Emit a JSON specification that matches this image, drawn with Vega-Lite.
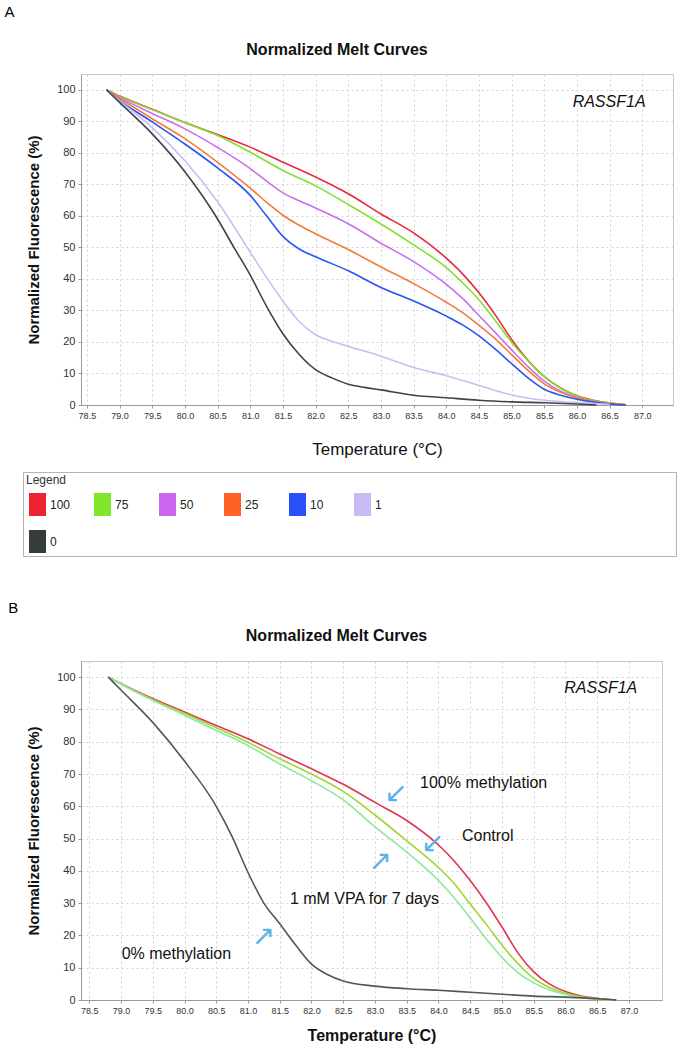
{
  "$schema": "https://vega.github.io/schema/vega-lite/v6.json",
  "background": "white",
  "padding": {"left": 4, "top": 4, "right": 0, "bottom": 0},
  "config": {
    "font": "Liberation Sans",
    "view": {"stroke": "#c8c8c8", "strokeWidth": 1},
    "axis": {"grid": true, "gridDash": [2, 3], "gridColor": "#d2d2d2", "domainColor": "#9a9a9a", "tickColor": "#9a9a9a", "labelColor": "#333333", "titleColor": "#111111", "labelFont": "Liberation Sans", "titleFont": "Liberation Sans", "labelOverlap": false}
  },
  "resolve": {"scale": {"color": "independent", "fill": "independent"}, "legend": {"color": "independent", "fill": "independent"}},
  "datasets": {
    "meltA": [
      {"series":"100","temp":78.8,"fluor":100},{"series":"100","temp":79.0,"fluor":98.0},{"series":"100","temp":79.5,"fluor":93.8},{"series":"100","temp":80.0,"fluor":89.6},{"series":"100","temp":80.5,"fluor":85.8},{"series":"100","temp":81.0,"fluor":81.8},{"series":"100","temp":81.5,"fluor":77.0},{"series":"100","temp":82.0,"fluor":72.3},{"series":"100","temp":82.5,"fluor":67.0},{"series":"100","temp":83.0,"fluor":60.6},{"series":"100","temp":83.5,"fluor":54.6},{"series":"100","temp":84.0,"fluor":46.6},{"series":"100","temp":84.25,"fluor":41.6},{"series":"100","temp":84.5,"fluor":35.6},{"series":"100","temp":84.75,"fluor":28.6},{"series":"100","temp":85.0,"fluor":20.8},{"series":"100","temp":85.25,"fluor":14.2},{"series":"100","temp":85.5,"fluor":9.0},{"series":"100","temp":85.75,"fluor":5.4},{"series":"100","temp":86.0,"fluor":2.9},{"series":"100","temp":86.25,"fluor":1.5},{"series":"100","temp":86.5,"fluor":0.6},{"series":"100","temp":86.75,"fluor":0.1},
      {"series":"75","temp":78.8,"fluor":100},{"series":"75","temp":79.0,"fluor":97.9},{"series":"75","temp":79.5,"fluor":93.7},{"series":"75","temp":80.0,"fluor":89.5},{"series":"75","temp":80.5,"fluor":85.5},{"series":"75","temp":81.0,"fluor":80.2},{"series":"75","temp":81.5,"fluor":74.4},{"series":"75","temp":82.0,"fluor":69.5},{"series":"75","temp":82.5,"fluor":63.6},{"series":"75","temp":83.0,"fluor":57.4},{"series":"75","temp":83.5,"fluor":50.8},{"series":"75","temp":84.0,"fluor":43.6},{"series":"75","temp":84.25,"fluor":38.8},{"series":"75","temp":84.5,"fluor":33.4},{"series":"75","temp":84.75,"fluor":26.8},{"series":"75","temp":85.0,"fluor":19.9},{"series":"75","temp":85.25,"fluor":14.0},{"series":"75","temp":85.5,"fluor":8.9},{"series":"75","temp":85.75,"fluor":5.3},{"series":"75","temp":86.0,"fluor":2.8},{"series":"75","temp":86.25,"fluor":1.4},{"series":"75","temp":86.5,"fluor":0.6},{"series":"75","temp":86.75,"fluor":0.1},
      {"series":"50","temp":78.8,"fluor":100},{"series":"50","temp":79.0,"fluor":97.6},{"series":"50","temp":79.5,"fluor":92.5},{"series":"50","temp":80.0,"fluor":87.6},{"series":"50","temp":80.5,"fluor":81.7},{"series":"50","temp":81.0,"fluor":75.0},{"series":"50","temp":81.25,"fluor":71.0},{"series":"50","temp":81.5,"fluor":67.3},{"series":"50","temp":81.75,"fluor":64.8},{"series":"50","temp":82.0,"fluor":62.5},{"series":"50","temp":82.5,"fluor":57.5},{"series":"50","temp":83.0,"fluor":51.3},{"series":"50","temp":83.5,"fluor":45.5},{"series":"50","temp":84.0,"fluor":38.3},{"series":"50","temp":84.25,"fluor":33.8},{"series":"50","temp":84.5,"fluor":28.4},{"series":"50","temp":84.75,"fluor":23.0},{"series":"50","temp":85.0,"fluor":17.5},{"series":"50","temp":85.25,"fluor":12.2},{"series":"50","temp":85.5,"fluor":7.6},{"series":"50","temp":85.75,"fluor":4.4},{"series":"50","temp":86.0,"fluor":2.4},{"series":"50","temp":86.25,"fluor":1.2},{"series":"50","temp":86.5,"fluor":0.5},{"series":"50","temp":86.75,"fluor":0.1},
      {"series":"25","temp":78.8,"fluor":100},{"series":"25","temp":79.0,"fluor":97.3},{"series":"25","temp":79.5,"fluor":90.8},{"series":"25","temp":80.0,"fluor":84.5},{"series":"25","temp":80.5,"fluor":77.0},{"series":"25","temp":81.0,"fluor":68.8},{"series":"25","temp":81.25,"fluor":64.3},{"series":"25","temp":81.5,"fluor":60.2},{"series":"25","temp":81.75,"fluor":57.0},{"series":"25","temp":82.0,"fluor":54.3},{"series":"25","temp":82.5,"fluor":49.3},{"series":"25","temp":83.0,"fluor":43.8},{"series":"25","temp":83.5,"fluor":38.5},{"series":"25","temp":84.0,"fluor":32.6},{"series":"25","temp":84.25,"fluor":29.3},{"series":"25","temp":84.5,"fluor":25.3},{"series":"25","temp":84.75,"fluor":21.0},{"series":"25","temp":85.0,"fluor":16.0},{"series":"25","temp":85.25,"fluor":11.0},{"series":"25","temp":85.5,"fluor":6.7},{"series":"25","temp":85.75,"fluor":4.0},{"series":"25","temp":86.0,"fluor":2.2},{"series":"25","temp":86.25,"fluor":1.1},{"series":"25","temp":86.5,"fluor":0.5},{"series":"25","temp":86.75,"fluor":0.1},
      {"series":"10","temp":78.8,"fluor":100},{"series":"10","temp":79.0,"fluor":96.6},{"series":"10","temp":79.5,"fluor":89.8},{"series":"10","temp":80.0,"fluor":82.8},{"series":"10","temp":80.5,"fluor":75.2},{"series":"10","temp":81.0,"fluor":66.5},{"series":"10","temp":81.25,"fluor":60.0},{"series":"10","temp":81.5,"fluor":53.5},{"series":"10","temp":81.75,"fluor":49.5},{"series":"10","temp":82.0,"fluor":47.0},{"series":"10","temp":82.5,"fluor":42.6},{"series":"10","temp":83.0,"fluor":37.3},{"series":"10","temp":83.5,"fluor":33.0},{"series":"10","temp":84.0,"fluor":28.2},{"series":"10","temp":84.25,"fluor":25.4},{"series":"10","temp":84.5,"fluor":21.9},{"series":"10","temp":84.75,"fluor":17.7},{"series":"10","temp":85.0,"fluor":13.1},{"series":"10","temp":85.25,"fluor":8.6},{"series":"10","temp":85.5,"fluor":5.0},{"series":"10","temp":85.75,"fluor":3.1},{"series":"10","temp":86.0,"fluor":1.8},{"series":"10","temp":86.25,"fluor":0.9},{"series":"10","temp":86.5,"fluor":0.3},{"series":"10","temp":86.75,"fluor":0.0},
      {"series":"1","temp":78.8,"fluor":100},{"series":"1","temp":79.0,"fluor":96.5},{"series":"1","temp":79.5,"fluor":88.0},{"series":"1","temp":80.0,"fluor":77.5},{"series":"1","temp":80.5,"fluor":64.5},{"series":"1","temp":81.0,"fluor":48.5},{"series":"1","temp":81.25,"fluor":40.5},{"series":"1","temp":81.5,"fluor":33.0},{"series":"1","temp":81.75,"fluor":26.5},{"series":"1","temp":82.0,"fluor":22.3},{"series":"1","temp":82.25,"fluor":20.2},{"series":"1","temp":82.5,"fluor":18.6},{"series":"1","temp":83.0,"fluor":15.5},{"series":"1","temp":83.5,"fluor":11.9},{"series":"1","temp":84.0,"fluor":9.3},{"series":"1","temp":84.5,"fluor":6.2},{"series":"1","temp":85.0,"fluor":3.2},{"series":"1","temp":85.5,"fluor":1.5},{"series":"1","temp":86.0,"fluor":0.8},{"series":"1","temp":86.5,"fluor":0.2},
      {"series":"0","temp":78.8,"fluor":100},{"series":"0","temp":79.0,"fluor":96.0},{"series":"0","temp":79.5,"fluor":86.0},{"series":"0","temp":80.0,"fluor":74.0},{"series":"0","temp":80.5,"fluor":59.0},{"series":"0","temp":80.75,"fluor":50.0},{"series":"0","temp":81.0,"fluor":41.2},{"series":"0","temp":81.25,"fluor":31.3},{"series":"0","temp":81.5,"fluor":22.6},{"series":"0","temp":81.75,"fluor":16.0},{"series":"0","temp":82.0,"fluor":11.2},{"series":"0","temp":82.25,"fluor":8.6},{"series":"0","temp":82.5,"fluor":6.6},{"series":"0","temp":82.75,"fluor":5.6},{"series":"0","temp":83.0,"fluor":4.8},{"series":"0","temp":83.5,"fluor":3.1},{"series":"0","temp":84.0,"fluor":2.3},{"series":"0","temp":84.5,"fluor":1.5},{"series":"0","temp":85.0,"fluor":1.0},{"series":"0","temp":85.5,"fluor":0.7},{"series":"0","temp":86.0,"fluor":0.3},{"series":"0","temp":86.3,"fluor":0.0}
    ],
    "meltB": [
      {"series":"100% methylation","temp":78.8,"fluor":100},{"series":"100% methylation","temp":79.0,"fluor":98.0},{"series":"100% methylation","temp":79.5,"fluor":93.4},{"series":"100% methylation","temp":80.0,"fluor":89.2},{"series":"100% methylation","temp":80.5,"fluor":85.0},{"series":"100% methylation","temp":81.0,"fluor":80.9},{"series":"100% methylation","temp":81.5,"fluor":76.2},{"series":"100% methylation","temp":82.0,"fluor":71.6},{"series":"100% methylation","temp":82.5,"fluor":66.8},{"series":"100% methylation","temp":83.0,"fluor":61.2},{"series":"100% methylation","temp":83.5,"fluor":55.6},{"series":"100% methylation","temp":84.0,"fluor":48.0},{"series":"100% methylation","temp":84.25,"fluor":43.0},{"series":"100% methylation","temp":84.5,"fluor":37.0},{"series":"100% methylation","temp":84.75,"fluor":30.2},{"series":"100% methylation","temp":85.0,"fluor":22.6},{"series":"100% methylation","temp":85.25,"fluor":14.6},{"series":"100% methylation","temp":85.5,"fluor":8.7},{"series":"100% methylation","temp":85.75,"fluor":4.9},{"series":"100% methylation","temp":86.0,"fluor":2.6},{"series":"100% methylation","temp":86.25,"fluor":1.2},{"series":"100% methylation","temp":86.5,"fluor":0.5},{"series":"100% methylation","temp":86.8,"fluor":0.0},
      {"series":"Control","temp":78.8,"fluor":100},{"series":"Control","temp":79.0,"fluor":97.9},{"series":"Control","temp":79.5,"fluor":93.1},{"series":"Control","temp":80.0,"fluor":88.8},{"series":"Control","temp":80.5,"fluor":84.3},{"series":"Control","temp":81.0,"fluor":79.8},{"series":"Control","temp":81.5,"fluor":74.7},{"series":"Control","temp":82.0,"fluor":70.0},{"series":"Control","temp":82.5,"fluor":64.6},{"series":"Control","temp":83.0,"fluor":57.3},{"series":"Control","temp":83.5,"fluor":49.3},{"series":"Control","temp":84.0,"fluor":41.0},{"series":"Control","temp":84.25,"fluor":36.0},{"series":"Control","temp":84.5,"fluor":29.7},{"series":"Control","temp":84.75,"fluor":23.5},{"series":"Control","temp":85.0,"fluor":17.0},{"series":"Control","temp":85.25,"fluor":11.3},{"series":"Control","temp":85.5,"fluor":6.7},{"series":"Control","temp":85.75,"fluor":3.9},{"series":"Control","temp":86.0,"fluor":2.1},{"series":"Control","temp":86.25,"fluor":1.0},{"series":"Control","temp":86.5,"fluor":0.3},{"series":"Control","temp":86.75,"fluor":0.0},
      {"series":"1 mM VPA for 7 days","temp":78.8,"fluor":100},{"series":"1 mM VPA for 7 days","temp":79.0,"fluor":97.8},{"series":"1 mM VPA for 7 days","temp":79.5,"fluor":92.8},{"series":"1 mM VPA for 7 days","temp":80.0,"fluor":88.2},{"series":"1 mM VPA for 7 days","temp":80.5,"fluor":83.5},{"series":"1 mM VPA for 7 days","temp":81.0,"fluor":78.8},{"series":"1 mM VPA for 7 days","temp":81.5,"fluor":73.1},{"series":"1 mM VPA for 7 days","temp":82.0,"fluor":67.9},{"series":"1 mM VPA for 7 days","temp":82.5,"fluor":62.0},{"series":"1 mM VPA for 7 days","temp":83.0,"fluor":53.6},{"series":"1 mM VPA for 7 days","temp":83.5,"fluor":45.8},{"series":"1 mM VPA for 7 days","temp":84.0,"fluor":37.0},{"series":"1 mM VPA for 7 days","temp":84.25,"fluor":31.6},{"series":"1 mM VPA for 7 days","temp":84.5,"fluor":25.4},{"series":"1 mM VPA for 7 days","temp":84.75,"fluor":19.0},{"series":"1 mM VPA for 7 days","temp":85.0,"fluor":13.2},{"series":"1 mM VPA for 7 days","temp":85.25,"fluor":8.5},{"series":"1 mM VPA for 7 days","temp":85.5,"fluor":5.3},{"series":"1 mM VPA for 7 days","temp":85.75,"fluor":3.1},{"series":"1 mM VPA for 7 days","temp":86.0,"fluor":1.7},{"series":"1 mM VPA for 7 days","temp":86.25,"fluor":0.8},{"series":"1 mM VPA for 7 days","temp":86.5,"fluor":0.2},{"series":"1 mM VPA for 7 days","temp":86.75,"fluor":0.0},
      {"series":"0% methylation","temp":78.8,"fluor":100},{"series":"0% methylation","temp":79.0,"fluor":96.0},{"series":"0% methylation","temp":79.5,"fluor":86.0},{"series":"0% methylation","temp":80.0,"fluor":74.0},{"series":"0% methylation","temp":80.5,"fluor":60.0},{"series":"0% methylation","temp":80.75,"fluor":50.6},{"series":"0% methylation","temp":81.0,"fluor":39.5},{"series":"0% methylation","temp":81.25,"fluor":30.0},{"series":"0% methylation","temp":81.5,"fluor":23.6},{"series":"0% methylation","temp":81.75,"fluor":17.0},{"series":"0% methylation","temp":82.0,"fluor":11.1},{"series":"0% methylation","temp":82.25,"fluor":7.9},{"series":"0% methylation","temp":82.5,"fluor":5.9},{"series":"0% methylation","temp":83.0,"fluor":4.3},{"series":"0% methylation","temp":83.5,"fluor":3.5},{"series":"0% methylation","temp":84.0,"fluor":3.0},{"series":"0% methylation","temp":84.5,"fluor":2.4},{"series":"0% methylation","temp":85.0,"fluor":1.8},{"series":"0% methylation","temp":85.5,"fluor":1.2},{"series":"0% methylation","temp":86.0,"fluor":0.9},{"series":"0% methylation","temp":86.5,"fluor":0.4},{"series":"0% methylation","temp":86.8,"fluor":0.0}
    ],
    "notesB": [
      {"label":"100% methylation","temp":83.71,"fluor":67.2},
      {"label":"Control","temp":84.37,"fluor":50.9},
      {"label":"1 mM VPA for 7 days","temp":81.66,"fluor":31.3},
      {"label":"0% methylation","temp":79.01,"fluor":14.2}
    ],
    "arrowsB": [
      {"glyph":"↙","temp":83.33,"fluor":63.8},
      {"glyph":"↙","temp":83.91,"fluor":48.3},
      {"glyph":"↗","temp":83.08,"fluor":42.7},
      {"glyph":"↗","temp":81.24,"fluor":19.5}
    ]
  },
  "spacing": 43,
  "vconcat": [
    {
      "title": {"text": "A", "anchor": "start", "fontSize": 15, "fontWeight": "normal", "color": "#000000", "dx": -18, "offset": 22},
      "vconcat": [
        {
          "width": 592,
          "height": 331,
          "title": {"text": "Normalized Melt Curves", "fontSize": 16, "fontWeight": "bold", "color": "#111111", "anchor": "middle", "frame": "group", "dx": -40, "offset": 16},
          "encoding": {
            "x": {"field": "temp", "type": "quantitative", "scale": {"domain": [78.41, 87.47], "nice": false, "zero": false},
              "axis": {"title": "Temperature (°C)", "values": [78.5,79,79.5,80,80.5,81,81.5,82,82.5,83,83.5,84,84.5,85,85.5,86,86.5,87], "format": ".1f", "labelOverlap": false, "labelFontSize": 9, "tickSize": 3, "labelPadding": 3, "titleFontSize": 17, "titleFontWeight": "normal", "titlePadding": 21}},
            "y": {"field": "fluor", "type": "quantitative", "scale": {"domain": [0, 105], "nice": false},
              "axis": {"title": "Normalized Fluorescence (%)", "values": [0,10,20,30,40,50,60,70,80,90,100], "labelOverlap": false, "labelFontSize": 11, "tickSize": 3, "labelPadding": 3, "titleFontSize": 15, "titleFontWeight": "bold", "titlePadding": 15}}
          },
          "layer": [
            {
              "data": {"name": "meltA"},
              "mark": {"type": "line", "strokeWidth": 1.6, "interpolate": "monotone"},
              "encoding": {
                "color": {"field": "series", "type": "nominal",
                  "scale": {"domain": ["0","1","10","25","50","75","100"], "range": ["#3c4545","#cbbdf3","#2a55f5","#f57a3a","#c86ff0","#84e030","#e8283e"]},
                  "legend": null}
              }
            },
            {
              "data": {"name": "meltA"},
              "mark": {"type": "point", "filled": true, "opacity": 0, "size": 0, "shape": "M-0.74,-1H0.74V1H-0.74Z"},
              "encoding": {
                "fill": {"field": "series", "type": "nominal",
                  "scale": {"domain": ["100","75","50","25","10","1","0"], "range": ["#ee2233","#80e62a","#cc66ee","#ff6126","#2a50f8","#c8baf4","#343c3c"]},
                  "legend": {"orient": "none", "legendX": -58, "legendY": 398, "direction": "horizontal", "columns": 6, "gridAlign": "all", "columnPadding": 20, "rowPadding": 14, "padding": 3, "strokeColor": "#b4b4b4", "fillColor": "#ffffff", "title": "Legend\u2003\u2003\u2003\u2003\u2003\u2003\u2003\u2003\u2003\u2003\u2003\u2003\u2003\u2003\u2003\u2003\u2003\u2003\u2003\u2003\u2003\u2003\u2003\u2003\u2003\u2003\u2003\u2003\u2003\u2003\u2003\u2003\u2003\u2003\u2003\u2003\u2003\u2003\u2003\u2003\u2003\u2003\u2003\u2003\u2003\u2003\u2003\u2003\u2003\u2003\u2002\u200b", "titleFontSize": 12, "titleFontWeight": "normal", "titleColor": "#333333", "titlePadding": 6, "titleLimit": 1000, "symbolType": "M-0.74,-1H0.74V1H-0.74Z", "symbolSize": 529, "symbolStrokeWidth": 0, "symbolOpacity": 1, "labelFontSize": 12, "labelColor": "#222222", "labelOffset": 1}}
              }
            },
            {
              "data": {"values": [{"label": "RASSF1A", "temp": 87.05, "fluor": 96.2}]},
              "mark": {"type": "text", "align": "right", "baseline": "middle", "fontSize": 16, "fontStyle": "italic", "color": "#111111"},
              "encoding": {"text": {"field": "label"}}
            }
          ]
        }
      ]
    },
    {
      "title": {"text": "B", "anchor": "start", "fontSize": 15, "fontWeight": "normal", "color": "#000000", "dx": -18, "offset": 12},
      "vconcat": [
        {
          "width": 581,
          "height": 339,
          "title": {"text": "Normalized Melt Curves", "fontSize": 16, "fontWeight": "bold", "color": "#111111", "anchor": "middle", "frame": "group", "dx": -35, "offset": 17},
          "encoding": {
            "x": {"field": "temp", "type": "quantitative", "scale": {"domain": [78.37, 87.52], "nice": false, "zero": false},
              "axis": {"title": "Temperature (°C)", "values": [78.5,79,79.5,80,80.5,81,81.5,82,82.5,83,83.5,84,84.5,85,85.5,86,86.5,87], "format": ".1f", "labelOverlap": false, "labelFontSize": 9, "tickSize": 3, "labelPadding": 3, "titleFontSize": 16, "titleFontWeight": "bold", "titlePadding": 12}},
            "y": {"field": "fluor", "type": "quantitative", "scale": {"domain": [0, 105], "nice": false},
              "axis": {"title": "Normalized Fluorescence (%)", "values": [0,10,20,30,40,50,60,70,80,90,100], "labelOverlap": false, "labelFontSize": 11, "tickSize": 3, "labelPadding": 3, "titleFontSize": 15, "titleFontWeight": "bold", "titlePadding": 15}}
          },
          "layer": [
            {
              "data": {"name": "meltB"},
              "mark": {"type": "line", "strokeWidth": 1.6, "interpolate": "monotone"},
              "encoding": {
                "color": {"field": "series", "type": "nominal",
                  "scale": {"domain": ["100% methylation","Control","1 mM VPA for 7 days","0% methylation"], "range": ["#e0344f","#9ed631","#8ee89a","#4f5858"]},
                  "legend": null}
              }
            },
            {
              "data": {"name": "notesB"},
              "mark": {"type": "text", "align": "left", "baseline": "middle", "fontSize": 16, "color": "#111111"},
              "encoding": {"text": {"field": "label"}}
            },
            {
              "data": {"name": "arrowsB"},
              "mark": {"type": "text", "align": "center", "baseline": "middle", "fontSize": 28, "font": "DejaVu Sans", "color": "#5ab2e6"},
              "encoding": {"text": {"field": "glyph"}}
            },
            {
              "data": {"values": [{"label": "RASSF1A", "temp": 87.13, "fluor": 96.6}]},
              "mark": {"type": "text", "align": "right", "baseline": "middle", "fontSize": 16, "fontStyle": "italic", "color": "#111111"},
              "encoding": {"text": {"field": "label"}}
            }
          ]
        }
      ]
    }
  ]
}
